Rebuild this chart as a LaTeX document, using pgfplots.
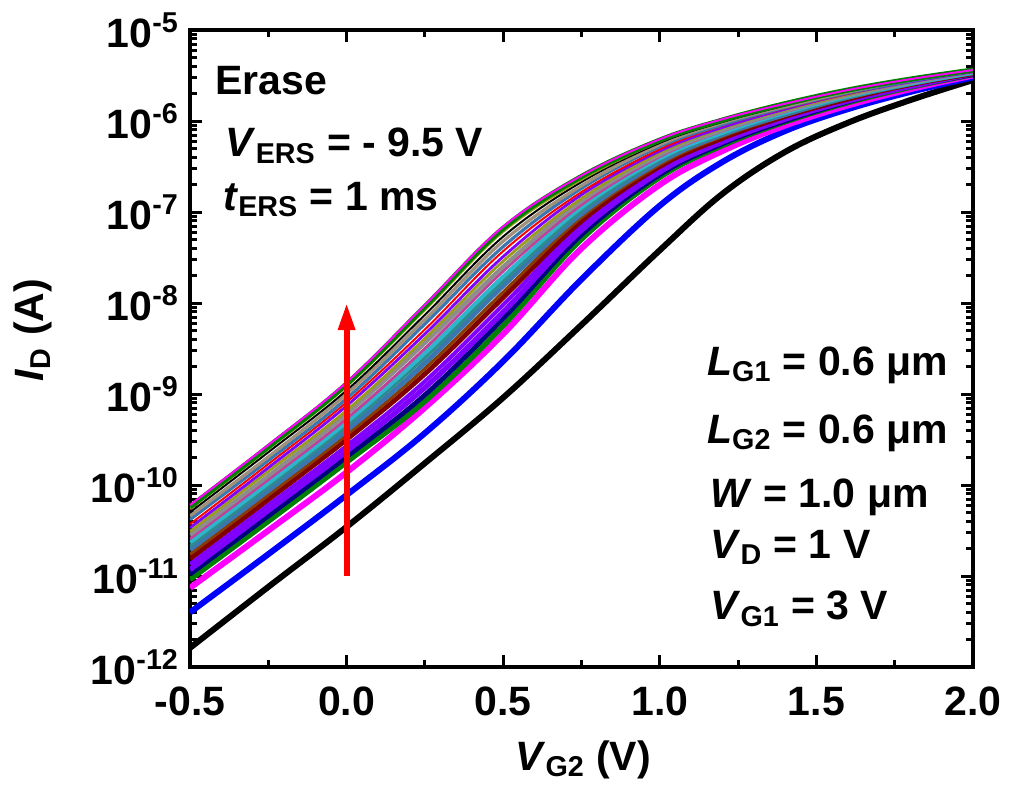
\documentclass[border=0pt]{standalone}
\usepackage{pgfplots}
\pgfplotsset{compat=1.18}
\usepackage{pgfplotstable}
\usepackage{fontspec}
\setmainfont{Liberation Sans}
\usetikzlibrary{arrows.meta}

\definecolor{cgreen}{HTML}{008000}
\definecolor{cnavy}{HTML}{000080}
\definecolor{cviolet}{HTML}{8000FF}
\definecolor{cwine}{HTML}{800000}
\definecolor{cbrown}{HTML}{8B3A00}
\definecolor{csteel}{HTML}{3A76B0}
\definecolor{cteal}{HTML}{2E8B8B}
\definecolor{ccyan}{HTML}{2CB5CB}
\definecolor{cpink}{HTML}{C0409A}
\definecolor{cgray}{HTML}{8C8C8C}
\definecolor{colive}{HTML}{9A9A20}
\definecolor{ctan}{HTML}{A0907A}
\definecolor{cmag}{HTML}{FF00FF}
\definecolor{cblue}{HTML}{0000FF}
\definecolor{cred}{HTML}{FF0000}

% log10 of I_D (A)
\pgfplotstableread{
x     k      b      m      c1     c2     c3     c4     c5     c6     c7     c8     c9     c10    c11    c12    c13    c14    c15    c16    c17    c18    c19    c20
-0.5  -11.79 -11.40 -11.13 -11.04 -10.98 -10.93 -10.87 -10.81 -10.76 -10.71 -10.67 -10.63 -10.59 -10.55 -10.51 -10.47 -10.43 -10.38 -10.34 -10.30 -10.26 -10.24 -10.22
-0.25 -11.12 -10.76 -10.50 -10.40 -10.34 -10.28 -10.22 -10.16 -10.11 -10.06 -10.02 -9.98  -9.94  -9.90  -9.85  -9.81  -9.77  -9.73  -9.69  -9.64  -9.60  -9.58  -9.56
0     -10.46 -10.11 -9.86  -9.75  -9.69  -9.63  -9.57  -9.50  -9.45  -9.40  -9.35  -9.31  -9.27  -9.22  -9.18  -9.13  -9.09  -9.05  -9.00  -8.96  -8.91  -8.89  -8.87
0.25  -9.76  -9.43  -9.15  -9.08  -9.01  -8.93  -8.86  -8.78  -8.72  -8.66  -8.60  -8.55  -8.50  -8.44  -8.39  -8.34  -8.29  -8.23  -8.18  -8.13  -8.07  -8.04  -8.02
0.5   -9.04  -8.64  -8.34  -8.25  -8.17  -8.10  -8.02  -7.94  -7.88  -7.81  -7.76  -7.71  -7.65  -7.60  -7.54  -7.49  -7.43  -7.38  -7.32  -7.27  -7.21  -7.18  -7.16
0.75  -8.24  -7.74  -7.40  -7.30  -7.25  -7.20  -7.15  -7.10  -7.06  -7.02  -6.99  -6.95  -6.92  -6.88  -6.85  -6.81  -6.78  -6.74  -6.71  -6.67  -6.64  -6.61  -6.60
1.0   -7.42  -6.93  -6.70  -6.62  -6.59  -6.56  -6.53  -6.50  -6.48  -6.45  -6.43  -6.41  -6.39  -6.37  -6.35  -6.33  -6.31  -6.28  -6.26  -6.24  -6.22  -6.21  -6.20
1.2   -6.80  -6.45  -6.33  -6.27  -6.25  -6.23  -6.21  -6.19  -6.17  -6.15  -6.14  -6.13  -6.11  -6.10  -6.08  -6.07  -6.05  -6.04  -6.02  -6.01  -5.99  -5.99  -5.98
1.4   -6.34  -6.11  -6.05  -6.01  -6.00  -5.98  -5.97  -5.95  -5.94  -5.93  -5.92  -5.91  -5.90  -5.89  -5.88  -5.87  -5.86  -5.85  -5.84  -5.83  -5.82  -5.81  -5.81
1.6   -6.02  -5.87  -5.83  -5.80  -5.79  -5.78  -5.77  -5.76  -5.75  -5.74  -5.74  -5.73  -5.72  -5.72  -5.71  -5.70  -5.70  -5.69  -5.68  -5.67  -5.67  -5.66  -5.66
1.8   -5.77  -5.68  -5.65  -5.63  -5.62  -5.62  -5.61  -5.60  -5.60  -5.59  -5.59  -5.59  -5.58  -5.58  -5.57  -5.57  -5.56  -5.56  -5.55  -5.55  -5.54  -5.54  -5.54
2.0   -5.55  -5.52  -5.50  -5.49  -5.49  -5.48  -5.48  -5.48  -5.47  -5.47  -5.47  -5.47  -5.46  -5.46  -5.46  -5.46  -5.45  -5.45  -5.45  -5.45  -5.44  -5.44  -5.44
}\data

\newcommand{\bigfont}{\fontsize{20.5}{24}\selectfont\bfseries}

\begin{document}
\begin{tikzpicture}
\path[use as bounding box] (-95pt,-63.5pt) rectangle (409.5pt,333.5pt);
\begin{axis}[
  scale only axis, width=391.5pt, height=318.5pt,
  xmin=-0.5, xmax=2.0, ymin=-12, ymax=-5,
  xtick={-0.5,0,0.5,1.0,1.5,2.0},
  xticklabels={-0.5,0.0,0.5,1.0,1.5,2.0},
  minor x tick num=1,
  ytick={-12,-11,-10,-9,-8,-7,-6,-5},
  yticklabels={10\textsuperscript{-12},10\textsuperscript{-11},10\textsuperscript{-10},10\textsuperscript{-9},10\textsuperscript{-8},10\textsuperscript{-7},10\textsuperscript{-6},10\textsuperscript{-5}},
  minor ytick={-11.699,-11.523,-11.398,-11.301,-11.222,-11.155,-11.097,-11.046,
               -10.699,-10.523,-10.398,-10.301,-10.222,-10.155,-10.097,-10.046,
               -9.699,-9.523,-9.398,-9.301,-9.222,-9.155,-9.097,-9.046,
               -8.699,-8.523,-8.398,-8.301,-8.222,-8.155,-8.097,-8.046,
               -7.699,-7.523,-7.398,-7.301,-7.222,-7.155,-7.097,-7.046,
               -6.699,-6.523,-6.398,-6.301,-6.222,-6.155,-6.097,-6.046,
               -5.699,-5.523,-5.398,-5.301,-5.222,-5.155,-5.097,-5.046},
  tick align=inside,
  major tick length=6pt, minor tick length=3.5pt,
  axis line style={line width=2pt},
  every tick/.style={black, line width=1.5pt},
  ticklabel style={font=\bigfont},
  yticklabel style={xshift=-2pt},
  xticklabel style={yshift=-6.5pt},
  xlabel={\textit{V}\textsubscript{G2} (V)},
  ylabel={\textit{I}\textsubscript{D} (A)},
  label style={font=\bigfont},
  xlabel style={at={(rel axis cs:0.502,-0.146)}, anchor=center},
  ylabel style={at={(rel axis cs:-0.2,0.529)}, anchor=center},
  every axis plot/.append style={smooth, tension=0.6, line join=round},
  clip=true,
]
\addplot[black, line width=3pt] table[x=x,y=k]{\data};
\addplot[cblue, line width=3pt] table[x=x,y=b]{\data};
\addplot[cmag, line width=3pt] table[x=x,y=m]{\data};
\addplot[cgreen, line width=2.6pt] table[x=x,y=c1]{\data};
\addplot[cnavy, line width=2.4pt] table[x=x,y=c2]{\data};
\addplot[cviolet, line width=2.6pt] table[x=x,y=c3]{\data};
\addplot[cviolet, line width=2pt] table[x=x,y=c4]{\data};
\addplot[cwine, line width=2.4pt] table[x=x,y=c5]{\data};
\addplot[cbrown, line width=1.6pt] table[x=x,y=c6]{\data};
\addplot[csteel, line width=2.4pt] table[x=x,y=c7]{\data};
\addplot[cteal, line width=1.6pt] table[x=x,y=c8]{\data};
\addplot[ccyan, line width=2pt] table[x=x,y=c9]{\data};
\addplot[cpink, line width=1.4pt] table[x=x,y=c10]{\data};
\addplot[cgray, line width=2pt] table[x=x,y=c11]{\data};
\addplot[colive, line width=1.4pt] table[x=x,y=c12]{\data};
\addplot[cviolet, line width=1.4pt] table[x=x,y=c13]{\data};
\addplot[cred, line width=1pt] table[x=x,y=c14]{\data};
\addplot[csteel, line width=1.6pt] table[x=x,y=c15]{\data};
\addplot[ctan, line width=1.6pt] table[x=x,y=c16]{\data};
\addplot[black, line width=1pt] table[x=x,y=c17]{\data};
\addplot[colive, line width=1.6pt] table[x=x,y=c18]{\data};
\addplot[cgreen, line width=2.6pt] table[x=x,y=c19]{\data};
\addplot[cmag, line width=1pt] table[x=x,y=c20]{\data};

\draw[cred, line width=3pt, -{Triangle[length=13.5pt,width=8pt]}] (axis cs:0,-11) -- (axis cs:0,-8.0);

\node[anchor=base west, font=\bigfont, inner sep=0pt] at (rel axis cs:0.032,0.898) {Erase};
\node[anchor=base west, font=\bigfont, inner sep=0pt] at (rel axis cs:0.045,0.801) {\textit{V}\textsubscript{ERS} = - 9.5 V};
\node[anchor=base west, font=\bigfont, inner sep=0pt] at (rel axis cs:0.042,0.717) {\textit{t}\textsubscript{ERS} = 1 ms};
\node[anchor=base west, font=\bigfont, inner sep=0pt] at (rel axis cs:0.660,0.458) {\textit{L}\textsubscript{G1} = 0.6 μm};
\node[anchor=base west, font=\bigfont, inner sep=0pt] at (rel axis cs:0.660,0.351) {\textit{L}\textsubscript{G2} = 0.6 μm};
\node[anchor=base west, font=\bigfont, inner sep=0pt] at (rel axis cs:0.664,0.251) {\textit{W} = 1.0 μm};
\node[anchor=base west, font=\bigfont, inner sep=0pt] at (rel axis cs:0.664,0.171) {\textit{V}\textsubscript{D} = 1 V};
\node[anchor=base west, font=\bigfont, inner sep=0pt] at (rel axis cs:0.664,0.074) {\textit{V}\textsubscript{G1} = 3 V};
\end{axis}
\end{tikzpicture}
\end{document}
